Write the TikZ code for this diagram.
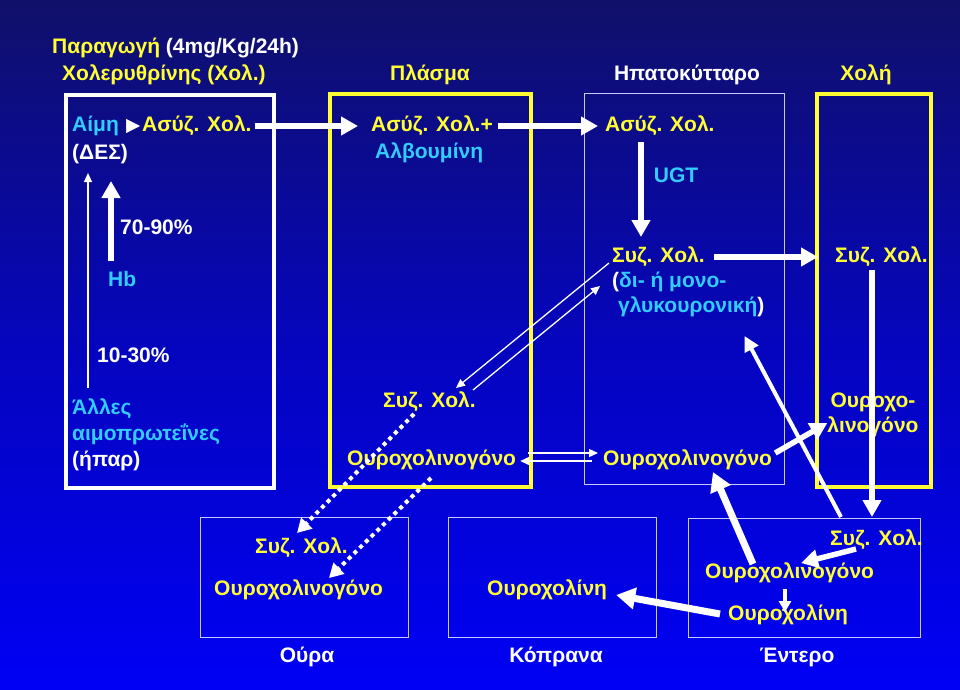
\documentclass[tikz,border=0pt]{standalone}
\usepackage{fontspec}
\setmainfont{Liberation Sans}
\usetikzlibrary{arrows.meta,calc}
\definecolor{ylw}{RGB}{255,255,51}
\definecolor{cyn}{RGB}{51,204,255}
\definecolor{lav}{RGB}{200,200,255}
\definecolor{bgtop}{RGB}{16,16,105}
\definecolor{bgmid}{RGB}{5,5,190}
\definecolor{bgbot}{RGB}{0,0,245}
\begin{document}
\begin{tikzpicture}[x=1pt,y=-1pt,
  txt/.style={inner sep=0pt, text height=15pt, text depth=4pt, font=\fontsize{21}{25}\selectfont\bfseries},
  tw/.style={txt,anchor=west},
  Y/.style={text=ylw}, C/.style={text=cyn}, W/.style={text=white},
  boxW/.style={draw=white, line width=3.5pt, inner sep=0pt, anchor=north west},
  boxY/.style={draw=ylw, line width=3.5pt, inner sep=0pt, anchor=north west},
  boxL/.style={draw=lav, line width=1.2pt, inner sep=0pt, anchor=north west},
  bigarrow/.style={draw=white, line width=5.5pt, -{Triangle[length=17pt,width=18pt]}},
  fatarrow/.style={draw=white, line width=7pt, -{Triangle[length=19pt,width=21pt]}},
  midarrow/.style={draw=white, line width=4pt, -{Triangle[length=15pt,width=15pt]}},
  smallarrow/.style={draw=white, line width=4pt, -{Triangle[length=11pt,width=12pt]}},
  thinarrow/.style={draw=white, line width=1.3pt, -{Triangle[length=9pt,width=8pt]}},
  dotarrow/.style={draw=white, line width=4pt, dash pattern=on 4pt off 4pt, -{Triangle[length=14pt,width=15pt]}}
]
\shade[top color=bgtop, bottom color=bgbot, middle color=bgmid] (0,0) rectangle (960,689);
\useasboundingbox (0,0) rectangle (960,689);

% boxes
\node[boxW, minimum width=208pt, minimum height=393pt] (b1) at (64,93) {};
\node[boxY, minimum width=201pt, minimum height=393pt] (b2) at (328,92) {};
\node[boxL, minimum width=200pt, minimum height=391pt] (b3) at (584,93) {};
\node[boxY, minimum width=114pt, minimum height=393pt] (b4) at (815,92) {};
\node[boxL, minimum width=208pt, minimum height=120pt] (b5) at (200,517) {};
\node[boxL, minimum width=208pt, minimum height=120pt] (b6) at (448,517) {};
\node[boxL, minimum width=232pt, minimum height=119pt] (b7) at (688,518) {};

% headings
\node[tw, W] (t1) at (52,48) {{\color{ylw}Παραγωγή} (4mg/Kg/24h)};
\node[tw, Y] (t2) at (62,75) {Χολερυθρίνης (Χολ.)};
\node[txt, Y] (plasma) at (430,75) {Πλάσμα};
\node[txt, W] (hep) at (687,75) {Ηπατοκύτταρο};
\node[txt, Y] (chol) at (866,75) {Χολή};
\node[txt, W] (oura) at (307,657) {Ούρα};
\node[txt, W] (kopr) at (556,657) {Κόπρανα};
\node[txt, W] (enter) at (797,657) {Έντερο};

% box 1
\node[tw, C] (aim) at (72,126) {Αίμη};
\node[tw, Y] (aszA) at (142,126) {Ασύζ. Χολ.};
\node[tw, W] (des) at (72,154) {(ΔΕΣ)};
\node[tw, W] (p7090) at (120,229) {70-90\%};
\node[tw, C] (hb) at (108,281) {Hb};
\node[tw, W] (p1030) at (97,357) {10-30\%};
\node[tw, C] (alles) at (72,409) {Άλλες};
\node[tw, C] (aimo) at (72,435) {αιμοπρωτεΐνες};
\node[tw, W] (hpar) at (72,461) {(ήπαρ)};

% box 2
\node[tw, Y] (asz2) at (371,126) {Ασύζ. Χολ.+};
\node[tw, C] (alb) at (375,153) {Αλβουμίνη};
\node[tw, Y] (szP) at (383,402) {Συζ. Χολ.};
\node[tw, Y] (urgP) at (347,460) {Ουροχολινογόνο};

% box 3
\node[tw, Y] (asz3) at (605,126) {Ασύζ. Χολ.};
\node[txt, C] (ugt) at (676,177) {UGT};
\node[tw, Y] (szH) at (612,257) {Συζ. Χολ.};
\node[tw, C] (di) at (612,282) {{\color{white}(}δι- ή μονο-};
\node[tw, C] (glyk) at (618,307) {γλυκουρονική{\color{white})}};
\node[tw, Y] (urgH) at (603,460) {Ουροχολινογόνο};

% box 4
\node[tw, Y] (szB) at (835,257) {Συζ. Χολ.};
\node[txt, Y] (urgB1) at (873,402) {Ουροχο-};
\node[txt, Y] (urgB2) at (873,427) {λινογόνο};

% bottom boxes
\node[tw, Y] (szU) at (255,548) {Συζ. Χολ.};
\node[tw, Y] (urgU) at (214,590) {Ουροχολινογόνο};
\node[tw, Y] (urlK) at (487,590) {Ουροχολίνη};
\node[tw, Y] (szE) at (830,540) {Συζ. Χολ.};
\node[tw, Y] (urgE) at (705,573) {Ουροχολινογόνο};
\node[tw, Y] (urlE) at (728,615) {Ουροχολίνη};

% arrows
\draw[draw=white, line width=0.5pt, -{Triangle[length=14pt,width=14pt]}] ($(aszA.west)+(-15,0)$) -- ($(aszA.west)+(-2,0)$);
\draw[thinarrow] ($(alles.west)+(16,-21)$) -- ($(des.west)+(16,19)$);
\draw[bigarrow] ($(hb.west)+(3,-20)$) -- ($(des.west)+(39,27)$);
\draw[bigarrow] ($(aszA.east)+(3,0)$) -- ($(asz2.west)+(-13,0)$);
\draw[bigarrow] ($(asz2.east)+(5,0)$) -- ($(asz3.west)+(-7,0)$);
\draw[bigarrow] ($(asz3.west)+(36,16)$) -- ($(szH.west)+(29,-20)$);
\draw[bigarrow] ($(szH.east)+(9,0)$) -- ($(szB.west)+(-17,0)$);
\draw[bigarrow] ($(szB.west)+(37,13)$) -- ($(szE.west)+(42,-23)$);
\draw[thinarrow] ($(szH.west)+(-3,6)$) -- ($(szP.west)+(73,-14)$);
\draw[thinarrow] ($(szP.west)+(90,-12)$) -- ($(di.west)+(-12,4)$);
\draw[thinarrow] ($(urgP.east)+(12,-7)$) -- ($(urgH.west)+(-5,-7)$);
\draw[thinarrow] ($(urgH.west)+(-11,1)$) -- ($(urgP.east)+(4,1)$);
\draw[bigarrow] ($(urgH.east)+(3,-7)$) -- ($(urgB2.west)+(0,-4)$);
\draw[midarrow] ($(szE.west)+(11,-23)$) -- ($(glyk.east)+(-20,29)$);
\draw[fatarrow] ($(urgE.west)+(48,-9)$) -- ($(urgH.west)+(110,12)$);
\draw[bigarrow] ($(szE.west)+(26,9)$) -- ($(urgE.west)+(96,-10)$);
\draw[smallarrow] ($(urgE.west)+(80,16)$) -- ($(urlE.west)+(57,-3)$);
\draw[fatarrow] ($(urlE.west)+(-8,-1)$) -- ($(urlK.east)+(9,5)$);
\draw[dotarrow] ($(szP.west)+(31,12)$) -- ($(szU.west)+(42,-15)$);
\draw[dotarrow] ($(urgP.west)+(84,18)$) -- ($(urgU.west)+(115,-12)$);
\end{tikzpicture}
\end{document}
